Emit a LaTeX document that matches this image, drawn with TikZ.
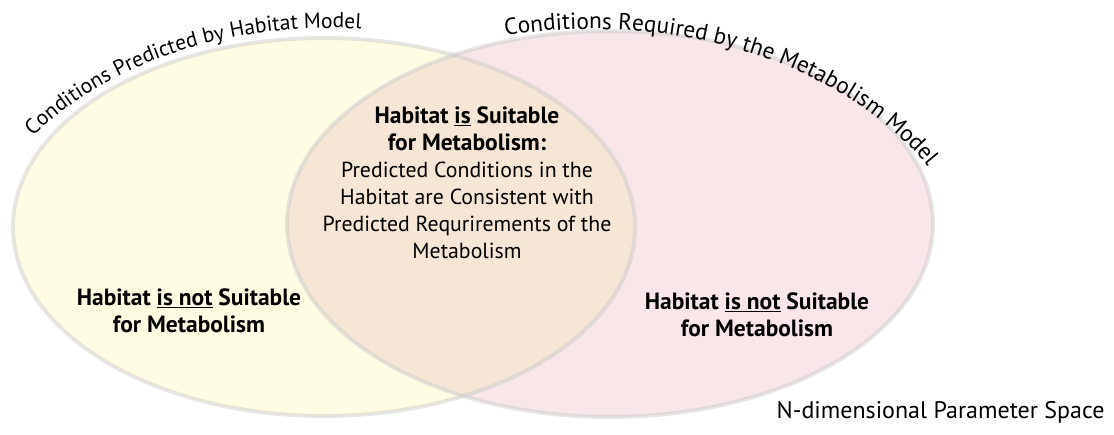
\documentclass[tikz,border=0pt]{standalone}
\usepackage{fontspec}
\setmainfont{PT Sans}
\usetikzlibrary{decorations.text}
\definecolor{yel}{RGB}{255,252,228}
\definecolor{pnk}{RGB}{248,230,232}
\definecolor{ovl}{RGB}{246,230,214}
\definecolor{edge}{RGB}{200,200,200}
\tikzset{
  venn/.style={draw=edge, draw opacity=0.45, line width=4pt},
  boldlbl/.style={align=center, font=\fontsize{23.5}{27.5}\selectfont\bfseries},
  plainlbl/.style={align=center, font=\fontsize{21.8}{27}\selectfont},
}
\newcommand{\curvefontA}{\fontsize{21.5}{22}\selectfont}
\newcommand{\curvefontB}{\fontsize{23.3}{24}\selectfont}
\begin{document}
\begin{tikzpicture}[x=1pt,y=-1pt]
\useasboundingbox (0,0) rectangle (1114,435);
% fills
\fill[yel] (324,227) ellipse[x radius=311pt, y radius=189pt];
\fill[pnk] (610,224) ellipse[x radius=323pt, y radius=193pt];
\begin{scope}
  \clip (324,227) ellipse[x radius=311pt, y radius=189pt];
  \fill[ovl] (610,224) ellipse[x radius=323pt, y radius=193pt];
\end{scope}
% outlines
\draw[venn] (324,227) ellipse[x radius=311pt, y radius=189pt];
\draw[venn] (610,224) ellipse[x radius=323pt, y radius=193pt];
% curved titles
\path[decorate, decoration={text along path, text align=left,
  text={|\curvefontA|Conditions Predicted by Habitat Model}}]
  (330,300) ++(143:372pt and 272pt) arc[start angle=143, end angle=60, x radius=372pt, y radius=272pt];
\path[decorate, decoration={text along path, text align=left,
  text={|\curvefontB|Conditions Required by the Metabolism Model}}]
  (590,300) ++(102.6:388pt and 271pt) arc[start angle=102.6, end angle=5, x radius=388pt, y radius=271pt];
% labels
\node[boldlbl] (inter) at (467,129) {Habitat \underline{is} Suitable\\for Metabolism:};
\node[plainlbl] (interdesc) at (467,210) {Predicted Conditions in the\\Habitat are Consistent with\\Predicted Requrirements of the\\Metabolism};
\node[boldlbl] (leftonly) at (189,311) {Habitat \underline{is not} Suitable\\for Metabolism};
\node[boldlbl] (rightonly) at (757,315) {Habitat \underline{is not} Suitable\\for Metabolism};
\node[font=\fontsize{24}{27}\selectfont, anchor=east] (space) at (1108,412) {N-dimensional Parameter Space};
\end{tikzpicture}
\end{document}
